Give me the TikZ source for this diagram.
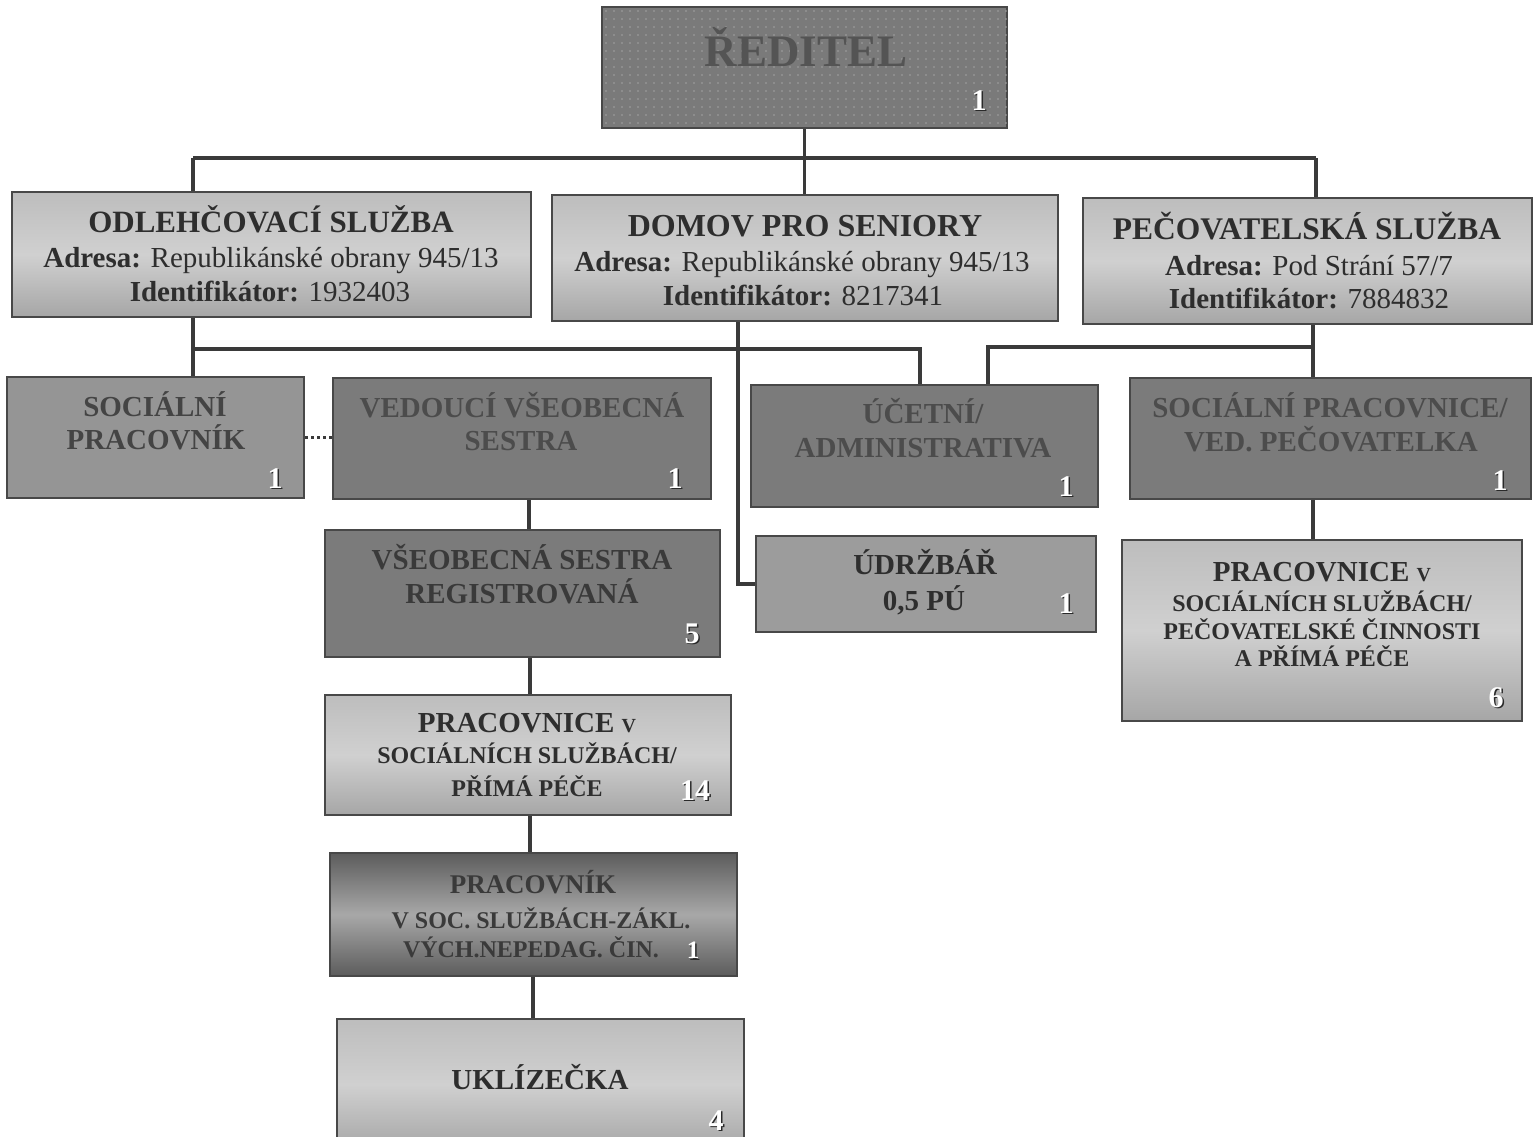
\documentclass[tikz,border=0pt]{standalone}
\usepackage{fontspec}
\setmainfont{Liberation Serif}
\usetikzlibrary{calc}
\definecolor{linec}{HTML}{3A3A3A}
\definecolor{boxline}{HTML}{484848}
\definecolor{redc}{HTML}{7A7A7A}
\definecolor{dotc}{HTML}{A2A2A2}
\definecolor{redtext}{HTML}{545454}
\definecolor{darkfill}{HTML}{7B7B7B}
\definecolor{dtxtA}{HTML}{4C4C4C}
\definecolor{dtxtB}{HTML}{3A3A3A}
\definecolor{soctext}{HTML}{444444}
\definecolor{midfill}{HTML}{959595}
\definecolor{udrfill}{HTML}{9C9C9C}
\definecolor{ltA}{HTML}{BDBDBD}
\definecolor{ltB}{HTML}{D0D0D0}
\definecolor{ltC}{HTML}{A6A6A6}
\definecolor{dkA}{HTML}{5C5C5C}
\definecolor{dkB}{HTML}{A8A8A8}
\definecolor{maintext}{HTML}{2E2E2E}
\definecolor{numsh}{HTML}{2A2A2A}
\newcommand\myfs[1]{\fontsize{#1}{#1}\selectfont}
\newcommand\mkbox[6]{\node[box,#6,minimum width={#4-#2},minimum height={#5-#3}] (#1) at ({(#2+#4)/2},{(#3+#5)/2}) {};}
\newcommand\tline[6][]{\node[ln,font=\myfs{#5},#1] (#2) at (#3,{#4+0.34*#5}) {#6};}
\newcommand\numlab[5]{\node[ln,font=\myfs{#4}\bfseries,text=numsh] (#1s) at ({#2+1.5},{#3+0.34*#4+1.5}) {#5};
  \node[ln,font=\myfs{#4}\bfseries,text=white] (#1) at (#2,{#3+0.34*#4}) {#5};}
\tikzset{
  box/.style={draw=boxline,line width=2pt,inner sep=0pt,rectangle},
  lightbox/.style={top color=ltA,bottom color=ltC,middle color=ltB},
  darkgrad/.style={top color=dkA,bottom color=dkA,middle color=dkB},
  ln/.style={anchor=base,inner sep=0pt,text=maintext},
  conn/.style={draw=linec,line width=3.5pt},
  dotconn/.style={draw=linec,line width=3pt,dash pattern=on 3pt off 3pt}
}
\begin{document}
\begin{tikzpicture}[x=1pt,y=-1pt]
\useasboundingbox (0,0) rectangle (1536,1136);
\fill[white] (0,0) rectangle (1536,1136);

% boxes
\mkbox{red}{602}{7}{1007}{128}{fill=redc}
\foreach \i in {0,...,50} \foreach \j in {0,...,14} \fill[dotc] ({606+\i*8},{11+\j*8}) circle (0.9);
\mkbox{odl}{12}{192}{531}{317}{lightbox}
\mkbox{dom}{552}{195}{1058}{321}{lightbox}
\mkbox{pec}{1083}{198}{1532}{324}{lightbox}
\mkbox{soc}{7}{377}{304}{498}{fill=midfill}
\mkbox{ved}{333}{378}{711}{499}{fill=darkfill}
\mkbox{vse}{325}{530}{720}{657}{fill=darkfill}
\mkbox{p14}{325}{695}{731}{815}{lightbox}
\mkbox{prk}{330}{853}{737}{976}{darkgrad}
\mkbox{ukl}{337}{1019}{744}{1150}{lightbox}
\mkbox{uce}{751}{385}{1098}{507}{fill=darkfill}
\mkbox{udr}{756}{536}{1096}{632}{fill=udrfill}
\mkbox{socp}{1130}{378}{1531}{499}{fill=darkfill}
\mkbox{p6}{1122}{540}{1522}{721}{lightbox}

% connectors
\coordinate (cL) at (193,158);
\coordinate (cR) at (1316,158);
\draw[conn] (red.south) -- (red.south |- dom.north);
\draw[conn] (cL) -- (cR);
\draw[conn] (cL) -- (odl.north -| cL);
\draw[conn] (cR) -- (pec.north -| cR);
\coordinate (oL) at (193,349);
\coordinate (uA) at (920,349);
\draw[conn] (odl.south -| oL) -- (soc.north -| oL);
\draw[conn] (oL) -- (uA) -- (uA |- uce.north);
\coordinate (dX) at (738,0);
\draw[conn] (dom.south -| dX) |- (udr.west);
\coordinate (pX) at (1313,347);
\coordinate (uB) at (988,347);
\draw[conn] (pec.south -| pX) -- (socp.north -| pX);
\draw[conn] (pX) -- (uB) -- (uB |- uce.north);
\draw[conn] (socp.south -| pX) -- (p6.north -| pX);
\coordinate (vX) at (529,0);
\coordinate (wX) at (530,0);
\coordinate (kX) at (533,0);
\draw[conn] (ved.south -| vX) -- (vse.north -| vX);
\draw[conn] (vse.south -| wX) -- (p14.north -| wX);
\draw[conn] (p14.south -| wX) -- (prk.north -| wX);
\draw[conn] (prk.south -| kX) -- (ukl.north -| kX);
\draw[dotconn] (soc.east) -- (ved.west |- soc.east);

% texts
\tline[text=redtext]{redt}{806}{51}{45}{\bfseries ŘEDITEL}
\numlab{redn}{979}{100}{30}{1}

\tline{odl1}{271}{222}{31}{\bfseries ODLEHČOVACÍ SLUŽBA}
\tline{odl2}{271}{258}{29}{\textbf{Adresa:} Republikánské obrany 945/13}
\tline{odl3}{270}{292}{29}{\textbf{Identifikátor:} 1932403}

\tline{dom1}{805}{226}{32}{\bfseries DOMOV PRO SENIORY}
\tline{dom2}{802}{262}{29}{\textbf{Adresa:} Republikánské obrany 945/13}
\tline{dom3}{803}{296}{29}{\textbf{Identifikátor:} 8217341}

\tline{pec1}{1307}{229}{31.5}{\bfseries PEČOVATELSKÁ SLUŽBA}
\tline{pec2}{1309}{266}{29}{\textbf{Adresa:} Pod Strání 57/7}
\tline{pec3}{1309}{299}{29}{\textbf{Identifikátor:} 7884832}

\tline[text=soctext]{soc1}{155}{407}{29}{\bfseries SOCIÁLNÍ}
\tline[text=soctext]{soc2}{156}{440}{29}{\bfseries PRACOVNÍK}
\numlab{socn}{275}{478}{30}{1}

\tline[text=dtxtA]{ved1}{522}{408}{29}{\bfseries VEDOUCÍ VŠEOBECNÁ}
\tline[text=dtxtA]{ved2}{521}{441}{29}{\bfseries SESTRA}
\numlab{vedn}{675}{478}{30}{1}

\tline[text=dtxtB]{vse1}{522}{560}{29}{\bfseries VŠEOBECNÁ SESTRA}
\tline[text=dtxtB]{vse2}{522}{594}{29}{\bfseries REGISTROVANÁ}
\numlab{vsen}{692}{633}{30}{5}

\tline{p141}{527}{723}{29}{\bfseries PRACOVNICE {\myfs{20}V}}
\tline{p142}{527}{755}{24}{\bfseries SOCIÁLNÍCH SLUŽBÁCH/}
\tline{p143}{527}{788}{24}{\bfseries PŘÍMÁ PÉČE}
\numlab{p14n}{695}{790}{30}{14}

\tline[text=dtxtB]{prk1}{533}{884}{27}{\bfseries PRACOVNÍK}
\tline[text=dtxtB]{prk2}{541}{920}{24}{\bfseries V SOC. SLUŽBÁCH-ZÁKL.}
\tline[text=dtxtB]{prk3}{531}{949}{24}{\bfseries VÝCH.NEPEDAG. ČIN.}
\numlab{prkn}{693}{950}{25}{1}

\tline{ukl1}{540}{1080}{29}{\bfseries UKLÍZEČKA}
\numlab{ukln}{716}{1120}{30}{4}

\tline[text=dtxtA]{uce1}{923}{414}{29}{\bfseries ÚČETNÍ/}
\tline[text=dtxtA]{uce2}{923}{448}{29}{\bfseries ADMINISTRATIVA}
\numlab{ucen}{1066}{486}{30}{1}

\tline{udr1}{925}{565}{29}{\bfseries ÚDRŽBÁŘ}
\tline{udr2}{924}{601}{29}{\bfseries 0,5 PÚ}
\numlab{udrn}{1066}{603}{30}{1}

\tline[text=dtxtA]{socp1}{1330}{408}{29}{\bfseries SOCIÁLNÍ PRACOVNICE/}
\tline[text=dtxtA]{socp2}{1331}{442}{29}{\bfseries VED. PEČOVATELKA}
\numlab{socpn}{1500}{480}{30}{1}

\tline{p61}{1322}{572}{29}{\bfseries PRACOVNICE {\myfs{20}V}}
\tline{p62}{1322}{603}{24}{\bfseries SOCIÁLNÍCH SLUŽBÁCH/}
\tline{p63}{1322}{631}{24}{\bfseries PEČOVATELSKÉ ČINNOSTI}
\tline{p64}{1322}{658}{24}{\bfseries A PŘÍMÁ PÉČE}
\numlab{p6n}{1496}{697}{30}{6}
\end{tikzpicture}
\end{document}
